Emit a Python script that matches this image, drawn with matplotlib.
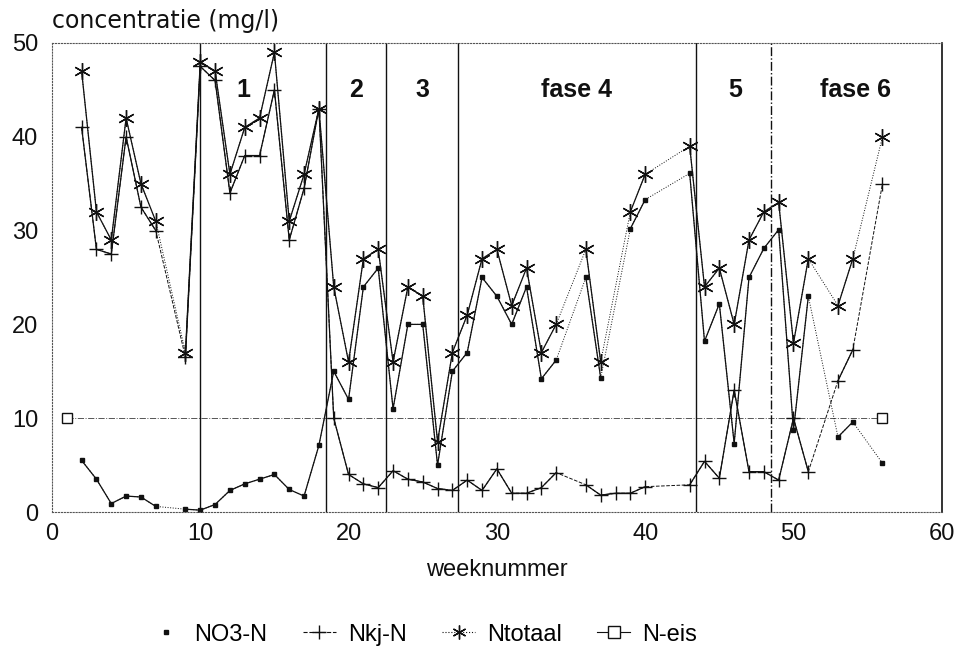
import numpy as np
import matplotlib
matplotlib.use("Agg")
import matplotlib.pyplot as plt
from matplotlib.lines import Line2D

plt.rcParams['font.family'] = ['Liberation Sans', 'DejaVu Sans']

nan = np.nan
weeks = list(range(1, 57))

# NO3-N per week (mg/l), nan = no measurement
no3 = [nan, 5.5, 3.5, 0.9, 1.7, 1.6, 0.6, nan, 0.3, 0.2,
       0.8, 2.3, 3.0, 3.5, 4.0, 2.4, 1.7, 7.1, 15, 12,
       24, 26, 11, 20, 20, 5, 15, 17, 25, 23,
       20, 24, 14.2, 16.2, nan, 25, 14.3, nan, 30.2, 33.3,
       nan, nan, 36.1, 18.2, 22.2, 7.3, 25, 28.1, 30.1, 8.7,
       23, nan, 8, 9.6, nan, 5.2]

nkj = [nan, 41, 28, 27.5, 40, 32.5, 30, nan, 16.5, 47.5,
       46, 34, 38, 38, 45, 29, 34.5, 43, 10, 4,
       3, 2.6, 4.4, 3.5, 3.2, 2.5, 2.3, 3.4, 2.3, 4.6,
       2, 2, 2.6, 4.2, nan, 2.9, 1.8, 2, 2, 2.7,
       nan, nan, 2.9, 5.4, 3.6, 13, 4.3, 4.3, 3.4, 10,
       4.3, nan, 14, 17.3, nan, 35]

ntot = [nan, 47, 32, 29, 42, 35, 31, nan, 17, 48,
        47, 36, 41, 42, 49, 31, 36, 43, 24, 16,
        27, 28, 16, 24, 23, 7.5, 17, 21, 27, 28,
        22, 26, 17, 20, nan, 28, 16, nan, 32, 36,
        nan, nan, 39, 24, 26, 20, 29, 32, 33, 18,
        27, nan, 22, 27, nan, 40]

neis = [10] * 56

phase_bounds = [10, 18.5, 22.5, 27.4, 43.4, 48.5]
phase_labels = ["1", "2", "3", "fase 4", "5", "fase 6"]
phase_label_x = [12.9, 20.5, 25.0, 35.4, 46.1, 54.2]

ink = '#111111'
star = (6, 2, 0)  # asterisk

fig = plt.figure(figsize=(9.62, 6.51), dpi=100)
ax = fig.add_axes([0.054, 0.2135, 0.925, 0.7205])

w = np.array(weeks, dtype=float)


def draw(vals, marker, ms, ls_run, ls_gap):
    v = np.array(vals, dtype=float)
    ok = ~np.isnan(v)
    # bridge missing weeks with a lighter line
    ax.plot(w[ok], v[ok], ls=ls_gap, color=ink, lw=0.7)
    ax.plot(w, v, ls=ls_run, color=ink, lw=0.9, marker=marker, ms=ms,
            mew=1.0, mfc=ink, mec=ink)


ax.plot(w, neis, ls='-.', color='#555555', lw=0.7, marker='s', ms=7,
        mfc='white', mec=ink, markevery=[0, len(neis) - 1])
draw(no3, 's', 3.5, '-', ':')
draw(nkj, '+', 10, '-', '--')
draw(ntot, star, 12, '-', ':')

for i, xb in enumerate(phase_bounds):
    ax.axvline(xb, color=ink, lw=1.0, ls='-.' if i == 5 else '-')

for lab, xl in zip(phase_labels, phase_label_x):
    ax.text(xl, 45, lab, ha='center', va='center', fontsize=18,
            fontweight='bold', color=ink)

ax.set_xlim(0, 60)
ax.set_ylim(0, 50)
ax.set_xticks([0, 10, 20, 30, 40, 50, 60])
ax.set_yticks([0, 10, 20, 30, 40, 50])
ax.tick_params(length=0, labelsize=17, colors=ink)
ax.tick_params(axis='x', pad=8)
ax.tick_params(axis='y', pad=10)
for s in ['left', 'bottom', 'top']:
    ax.spines[s].set_linestyle(':')
    ax.spines[s].set_color('#555555')
ax.spines['right'].set_color(ink)
ax.spines['right'].set_linewidth(1.2)

ax.set_xlabel("weeknummer", fontsize=17, color=ink, labelpad=10)
fig.text(0.054, 0.967, "concentratie (mg/l)", fontsize=17, color=ink,
         ha='left', va='center', family='DejaVu Sans')

handles = [
    Line2D([], [], ls='none', marker='s', ms=3.5, color=ink),
    Line2D([], [], ls='--', lw=0.8, marker='+', ms=10, color=ink),
    Line2D([], [], ls=':', lw=0.8, marker=star, ms=10, color=ink),
    Line2D([], [], ls='-', lw=0.8, marker='s', ms=8, mfc='white', color=ink),
]
fig.legend(handles, ["NO3-N", "Nkj-N", "Ntotaal", "N-eis"], loc='center',
           bbox_to_anchor=(0.44, 0.025), ncol=4, frameon=False, fontsize=17,
           handlelength=1.4, handletextpad=0.5, columnspacing=1.5)

fig.savefig("out.png", dpi=100)
